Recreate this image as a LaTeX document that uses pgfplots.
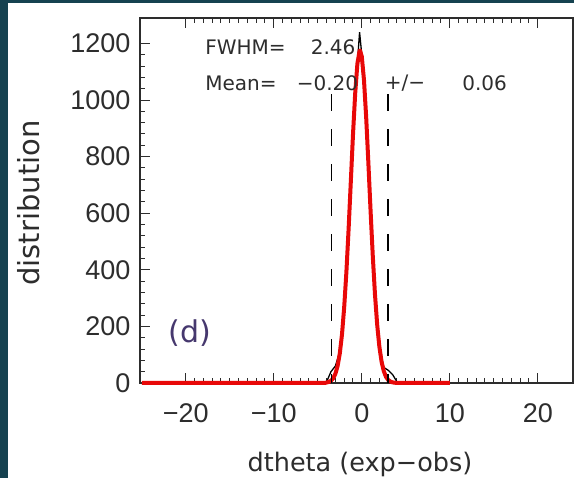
\documentclass[border=0pt]{standalone}
\usepackage{pgfplots}
\pgfplotsset{compat=1.18}
\usepackage{fontspec}
\setmainfont{Liberation Sans}
\newfontfamily\labfont{DejaVu Sans}
\definecolor{frameteal}{RGB}{22,66,80}
\definecolor{curvered}{RGB}{232,8,8}
\definecolor{panelpurple}{RGB}{70,56,110}
\definecolor{inkgray}{RGB}{45,45,45}

\begin{document}
\begin{tikzpicture}[x=1pt,y=1pt]
\path[use as bounding box] (0,0) rectangle (574,478);
\fill[white] (0,0) rectangle (574,478);
\fill[frameteal] (0,0) rectangle (8,478);
\fill[frameteal] (0,475) rectangle (574,478);
\begin{axis}[
  at={(140pt,95pt)}, anchor=south west,
  scale only axis, width=433pt, height=365pt,
  xmin=-25.2, xmax=24, ymin=0, ymax=1290,
  clip=false,
  axis line style={inkgray, line width=1.2pt},
  xtick={-20,-10,0,10,20},
  xticklabels={−20,−10,0,10,20},
  minor x tick num=9,
  ytick={0,200,400,600,800,1000,1200},
  yticklabels={0,200,400,600,800,1000,1200},
  minor y tick num=4,
  tick align=inside,
  major tick length=10pt, minor tick length=5pt,
  every tick/.style={inkgray, line width=1pt},
  ytick pos=left,
  xtick pos=both,
  tick label style={font=\fontsize{27}{30}\selectfont, text=inkgray},
  xticklabel style={yshift=-17pt},
  yticklabel style={xshift=-6pt},
  xlabel={dtheta (exp−obs)},
  xlabel style={font=\labfont\fontsize{25.5}{28}\selectfont, text=inkgray,
    at={(axis description cs:0.508,-0.222)}, anchor=center, inner sep=0pt},
  ylabel={distribution},
  ylabel style={font=\labfont\fontsize{29}{32}\selectfont, text=inkgray,
    at={(axis description cs:-0.258,0.493)}, anchor=center, inner sep=0pt},
]
% measured histogram
\addplot[black, line width=1.3pt] coordinates {
  (-25,0) (-4.5,0) (-4.0,4) (-3.5,40) (-3.0,60) (-2.5,110) (-2.0,270)
  (-1.5,545) (-1.0,880) (-0.5,1130) (-0.25,1240) (0.0,1160) (0.5,940)
  (1.0,610) (1.5,315) (2.0,130) (2.5,55) (3.0,45) (3.5,30) (4.0,4)
  (4.5,0) (10,0)
};
% gaussian fit
\addplot[curvered, line width=4pt, line join=round] coordinates {
  (-25,0) (-4.25,0) (-4.0,1.6) (-3.75,3.7) (-3.5,8.0) (-3.25,16.6)
  (-3.0,32.5) (-2.75,59.8) (-2.5,104) (-2.25,171) (-2.0,267) (-1.75,391)
  (-1.5,542) (-1.25,709) (-1.0,877) (-0.75,1023) (-0.5,1128) (-0.25,1174)
  (-0.2,1175) (0.0,1154) (0.25,1071) (0.5,939) (0.75,777) (1.0,608)
  (1.25,449) (1.5,313) (1.75,206) (2.0,128) (2.25,75) (2.5,42)
  (2.75,21.9) (3.0,10.8) (3.25,5.1) (3.5,2.2) (3.75,0.9) (4.0,0.3)
  (4.25,0) (10,0)
};
% window limits
\addplot[black, line width=1.5pt, dash pattern=on 17pt off 18pt]
  coordinates {(-3.45,1020) (-3.45,0)};
\addplot[black, line width=1.5pt, dash pattern=on 17pt off 18pt]
  coordinates {(3.0,1020) (3.0,0)};
\begin{scope}[every node/.style={inner sep=0pt, text=inkgray,
    font=\labfont\fontsize{20}{22}\selectfont}]
\node[anchor=west] at (axis cs:-17.8,1186) {FWHM=};
\node[anchor=east] at (axis cs:-0.7,1186) {2.46};
\node[anchor=west] at (axis cs:-17.8,1059) {Mean=};
\node[anchor=west] at (axis cs:-7.4,1059) {−0.20};
\node[anchor=west] at (axis cs:2.6,1059) {+/−};
\node[anchor=west] at (axis cs:11.4,1059) {0.06};
\end{scope}
\node[inner sep=0pt, text=panelpurple, font=\labfont\fontsize{30}{32}\selectfont]
  at (axis cs:-19.5,176) {(d)};
\end{axis}
\end{tikzpicture}
\end{document}
